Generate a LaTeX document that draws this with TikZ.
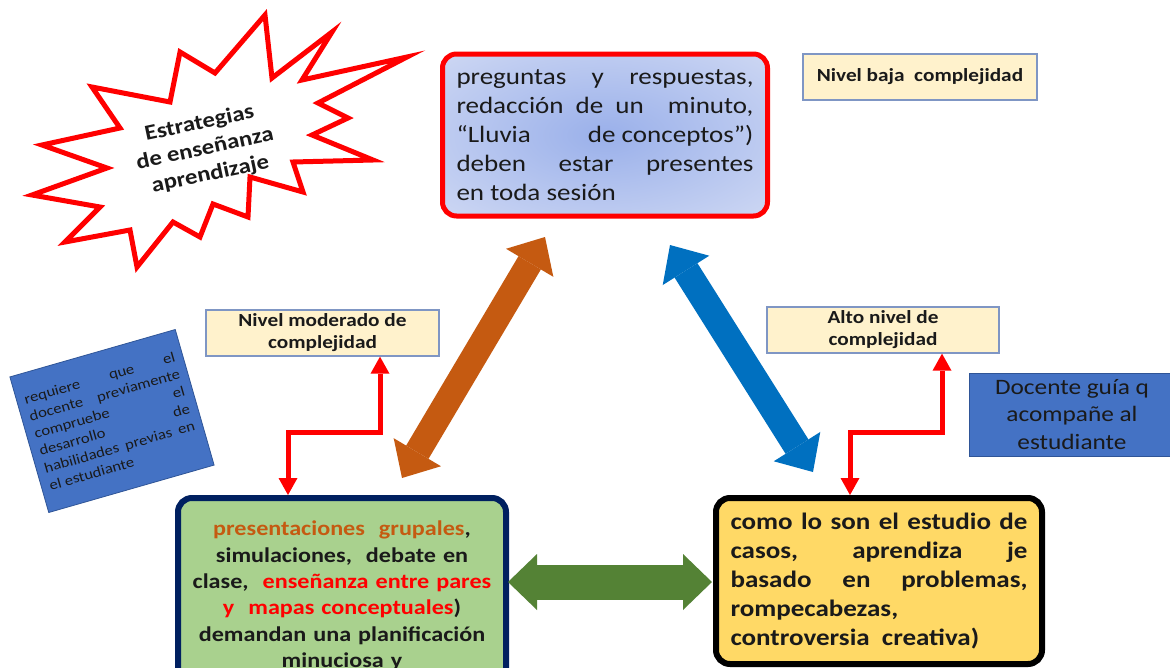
\documentclass[tikz,border=0pt]{standalone}
\usepackage{fontspec}
\setmainfont{Carlito}[FakeStretch=1.15]
\usetikzlibrary{arrows.meta,calc}
\definecolor{orangeA}{HTML}{C55A11}
\definecolor{blueA}{HTML}{0070C0}
\definecolor{greenA}{HTML}{548235}
\definecolor{greenF}{HTML}{A9D18E}
\definecolor{navyB}{HTML}{002060}
\definecolor{yellowF}{HTML}{FFD966}
\definecolor{creamF}{HTML}{FFF2CC}
\definecolor{lvlB}{HTML}{7F96C4}
\definecolor{boxBlue}{HTML}{4472C4}
\definecolor{boxBlueB}{HTML}{2F5597}
\definecolor{inkT}{HTML}{1A1A1A}
\definecolor{gradIn}{HTML}{9AB0EA}
\definecolor{gradOut}{HTML}{E2E7F7}
\definecolor{redT}{HTML}{FF0000}
\pgfdeclareradialshading{topglow}{\pgfpoint{0bp}{0bp}}{color(0bp)=(gradIn); color(50bp)=(gradOut); color(80bp)=(gradOut)}
\tikzset{
  topbox/.style={draw=red, line width=5pt, rounded corners=14pt, shading=topglow,
    minimum width=325pt, minimum height=162pt, text width=297pt, align=justify, inner sep=0pt,
    text=inkT, font=\fontsize{23.5}{29}\selectfont},
  lvlbox/.style={draw=lvlB, line width=1.3pt, fill=creamF, minimum height=46pt, inner sep=0pt,
    align=center, text=inkT, font=\bfseries\fontsize{18.5}{22}\selectfont},
  bluebox/.style={draw=boxBlueB, line width=0.8pt, fill=boxBlue, inner sep=0pt, text=inkT},
  greenbox/.style={draw=navyB, line width=6pt, rounded corners=14pt, fill=greenF,
    minimum width=328pt, minimum height=196pt, text width=310pt, align=center, inner sep=0pt,
    text=inkT, font=\bfseries\fontsize{21}{26.3}\selectfont},
  yellowbox/.style={draw=black, line width=6pt, rounded corners=14pt, fill=yellowF,
    minimum width=326pt, minimum height=166pt, text width=297pt, align=justify, inner sep=0pt,
    text=inkT, font=\bfseries\fontsize{23.5}{29}\selectfont},
  redarr/.style={draw=red, line width=5pt,
    {Triangle[length=17pt,width=19pt,line width=0pt]}-{Triangle[length=17pt,width=19pt,line width=0pt]}},
  bigarr/.style 2 args={draw=#1, line width=#2,
    {Triangle[length=30pt,width=55pt,line width=0pt]}-{Triangle[length=30pt,width=55pt,line width=0pt]}}
}
\begin{document}
\begin{tikzpicture}[x=1pt,y=-1pt]
\useasboundingbox (0,0) rectangle (1170,667);
\clip (0,0) rectangle (1170,667);
\fill[white] (0,0) rectangle (1170,667);

% star burst
\draw[red, line width=5pt, fill=white]
  (265,15) -- (272,78) -- (332,32) -- (302,80) -- (407,57) -- (318,103) -- (348,118)
  -- (312,135) -- (373,160) -- (293,162) -- (303,192) -- (250,177) -- (248,217)
  -- (213,204) -- (200,237) -- (173,222) -- (137,267) -- (130,230) -- (65,242)
  -- (100,207) -- (32,195) -- (107,168) -- (42,145) -- (120,128) -- (92,87)
  -- (170,102) -- (180,52) -- (215,73) -- cycle;
\node[rotate=12, align=center, text=inkT, font=\bfseries\fontsize{21.5}{26}\selectfont] (star) at (205,149)
  {Estrategias\\de enseñanza\\aprendizaje};

% top box
\node[topbox] (top) at (605,135)
  {preguntas y respuestas,\linebreak redacción de un\ \ minuto,\linebreak “Lluvia\hfill de conceptos”)\linebreak deben estar presentes\linebreak en toda sesión};

% level boxes
\node[lvlbox, minimum width=234pt] (baja) at (920,77) {Nivel baja\ \ complejidad};
\node[lvlbox, minimum width=233pt] (mod) at (322.5,333) {Nivel moderado de\\complejidad};
\node[lvlbox, minimum width=232pt] (alto) at (883,330) {Alto nivel de\\complejidad};

% blue boxes
\node[bluebox, minimum width=205pt, minimum height=83pt, align=center,
  font=\fontsize{22}{27.5}\selectfont] (doc) at (1072,414.5) {Docente guía q\\acompañe al\\estudiante};
\node[bluebox, rotate=16, minimum width=172pt, minimum height=141pt, text width=156pt, align=justify,
  font=\fontsize{14.5}{18}\selectfont] (req) at (112,421)
  {requiere que el\linebreak docente previamente\linebreak compruebe el\linebreak desarrollo de\linebreak habilidades previas en\linebreak el estudiante};

% bottom boxes
\node[greenbox] (grn) at (342,596)
  {{\color{orangeA}presentaciones\ \ grupales},\\ simulaciones,\ \ debate en\\ clase,\ \ {\color{redT}enseñanza entre pares}\\ {\color{redT}y\ \ mapas conceptuales})\\ demandan una planificación\\ minuciosa y};
\node[yellowbox] (yel) at (879,581)
  {como lo son el estudio de\linebreak casos, aprendiza je\linebreak basado en problemas,\linebreak rompecabezas,\linebreak controversia\ \ creativa)};

% big double arrows
\coordinate (oa) at (402,478);
\coordinate (ob) at (545,237);
\coordinate (ba) at (670,245);
\coordinate (bb) at (813,472);
\coordinate (ga) at (508,582);
\coordinate (gb) at (712,582);
\draw[bigarr={orangeA}{26pt}] (oa) -- (ob);
\draw[bigarr={blueA}{27pt}] (ba) -- (bb);
\draw[greenA, line width=35pt,
  {Triangle[length=29pt,width=56pt,line width=0pt]}-{Triangle[length=29pt,width=56pt,line width=0pt]}] (ga) -- (gb);

% red elbow connectors
\coordinate (lk1) at (380,432);
\coordinate (lk2) at (288,432);
\coordinate (rk1) at (942,432);
\coordinate (rk2) at (850,432);
\draw[redarr] (mod.south -| lk1) -- (lk1) -- (lk2) -- (grn.north -| lk2);
\draw[redarr] (alto.south -| rk1) -- (rk1) -- (rk2) -- (yel.north -| rk2);
\end{tikzpicture}
\end{document}
